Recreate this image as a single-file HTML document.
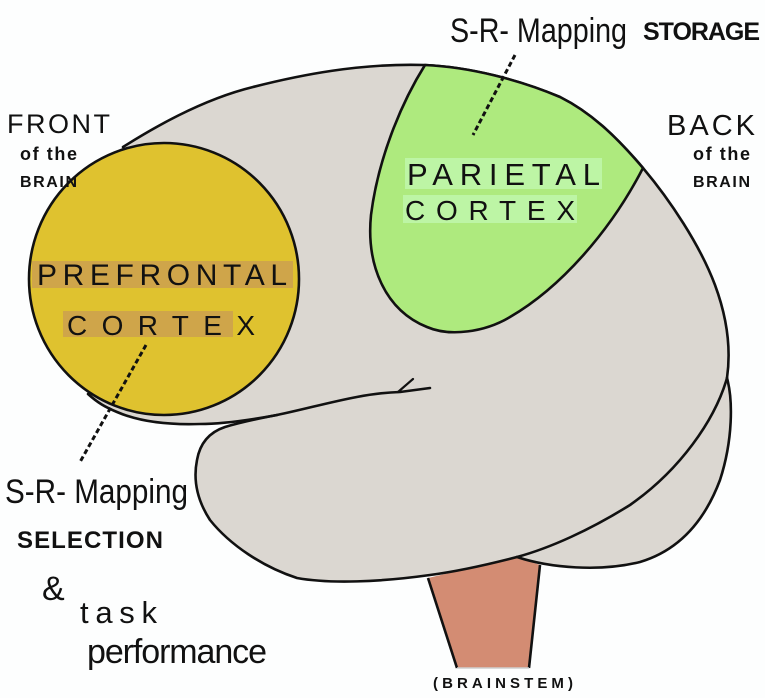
<!DOCTYPE html>
<html>
<head>
<meta charset="utf-8">
<style>
  html,body{margin:0;padding:0;background:#fdfefe;}
  svg{display:block;}
  text{font-family:"Liberation Sans",sans-serif;fill:#111;}
  .up{text-transform:uppercase;}
</style>
</head>
<body>
<svg width="765" height="698" viewBox="0 0 765 698" xmlns="http://www.w3.org/2000/svg">
  <rect width="765" height="698" fill="#fdfefe"/>

  <!-- brainstem -->
  <polygon points="428,578 517,557 540,565 529,668 457,668" fill="#d38c73"/>
  <line x1="428" y1="578" x2="457" y2="668" stroke="#111" stroke-width="2.6"/>
  <line x1="540" y1="565" x2="529" y2="668" stroke="#111" stroke-width="2.6"/>
  <line x1="457" y1="668" x2="529" y2="668" stroke="#cfcfcf" stroke-width="1.5"/>

  <!-- gray silhouette fill -->
  <path d="M123,147 C150,130 200,100 253,87 C300,75 360,63 425,65 C470,67 520,80 560,97 C590,112 615,135 643,168 C670,200 700,245 715,285 C728,320 731,350 727,378
           C733,400 733,440 720,480 C705,520 680,550 640,562 C600,572 550,568 517,557
           C490,564 460,571 430,575 C380,582 330,584 297,578 C263,567 230,545 210,520 C197,500 193,480 197,460 C200,443 210,432 225,427 C245,421 262,418 277,415
           C250,420 220,424 200,424 C170,425 140,422 117,412 C105,407 98,403 93,400
           L60,350 L40,260 L70,200 Z" fill="#dbd7d1"/>

  <!-- top outline -->
  <path d="M123,147 C150,130 200,100 253,87 C300,75 360,63 425,65 C470,67 520,80 560,97 C590,112 615,135 643,168 C670,200 700,245 715,285 C728,320 731,350 727,378"
        fill="none" stroke="#111" stroke-width="2.6" stroke-linecap="round"/>
  <!-- cerebellum outline -->
  <path d="M727,378 C733,400 733,440 720,480 C705,520 680,550 640,562 C600,572 550,568 517,557"
        fill="none" stroke="#111" stroke-width="2.6" stroke-linecap="round"/>
  <!-- crease + temporal lobe -->
  <path d="M727,378 C715,420 680,470 630,505 C590,530 550,548 517,557 C490,564 460,571 430,575 C380,582 330,584 297,578 C263,567 230,545 210,520 C197,500 193,480 197,460 C200,443 210,432 225,427 C245,421 262,418 277,415 C320,406 360,393 400,392 L430,388"
        fill="none" stroke="#111" stroke-width="2.6" stroke-linecap="round" stroke-linejoin="round"/>
  <path d="M398,392 L413,379" fill="none" stroke="#111" stroke-width="2.2" stroke-linecap="round"/>
  <!-- lower cerebrum line under prefrontal -->
  <path d="M277,415 C250,420 220,424 200,424 C170,425 140,422 117,412 C105,407 98,403 88,394"
        fill="none" stroke="#111" stroke-width="2.6" stroke-linecap="round"/>

  <!-- prefrontal cortex -->
  <ellipse cx="164" cy="279" rx="135" ry="136" fill="#dfc22f" stroke="#111" stroke-width="2.6"/>
  <rect x="32" y="261" width="261" height="27" fill="#cfa54a"/>
  <rect x="63" y="311" width="170" height="26" fill="#cfa54a"/>
  <text x="37" y="285" font-size="30" textLength="250" lengthAdjust="spacing">PREFRONTAL</text>
  <text x="67" y="335" font-size="28" textLength="188" lengthAdjust="spacing">CORTEX</text>

  <!-- parietal cortex -->
  <path d="M425,65 C400,105 378,160 371,215 C366,265 385,310 427,327 C450,337 485,332 510,317 C560,288 610,232 643,168 C615,135 590,112 560,97 C520,80 470,67 425,65 Z"
        fill="#aeea7e" stroke="#111" stroke-width="2.6" stroke-linejoin="round"/>
  <rect x="405" y="158" width="197" height="31" fill="#bdf5a5"/>
  <rect x="403" y="195" width="174" height="28" fill="#bdf5a5"/>
  <text x="407" y="185" font-size="31" textLength="193" lengthAdjust="spacing">PARIETAL</text>
  <text x="405" y="220" font-size="28" textLength="170" lengthAdjust="spacing">CORTEX</text>

  <!-- dotted connectors -->
  <line x1="515" y1="55" x2="473" y2="135" stroke="#111" stroke-width="3" stroke-dasharray="5 3"/>
  <line x1="146" y1="345" x2="80" y2="462" stroke="#111" stroke-width="3" stroke-dasharray="5 3"/>

  <!-- labels -->
  <text x="7" y="133" font-size="27" textLength="103" lengthAdjust="spacing">FRONT</text>
  <text x="20" y="160" font-size="18" font-weight="bold" textLength="57" lengthAdjust="spacing">of the</text>
  <text x="20" y="187" font-size="16" font-weight="bold" textLength="57" lengthAdjust="spacing">BRAIN</text>

  <text x="667" y="135" font-size="29" textLength="88" lengthAdjust="spacing">BACK</text>
  <text x="693" y="160" font-size="18" font-weight="bold" textLength="57" lengthAdjust="spacing">of the</text>
  <text x="693" y="187" font-size="16" font-weight="bold" textLength="57" lengthAdjust="spacing">BRAIN</text>

  <text x="450" y="42" font-size="34" textLength="177" lengthAdjust="spacingAndGlyphs">S-R- Mapping</text>
  <text class="up" x="643" y="40" font-size="25" font-weight="bold" textLength="117" lengthAdjust="spacing">storage</text>

  <text x="5" y="503" font-size="34" textLength="183" lengthAdjust="spacingAndGlyphs">S-R- Mapping</text>
  <text class="up" x="17" y="548" font-size="24" font-weight="bold" textLength="146" lengthAdjust="spacing">selection</text>
  <text x="42" y="600" font-size="34">&amp;</text>
  <text x="80" y="623" font-size="31" textLength="77" lengthAdjust="spacing">task</text>
  <text x="87" y="663" font-size="34" textLength="180" lengthAdjust="spacing">performance</text>

  <text x="433" y="688" font-size="15" font-weight="bold" textLength="140" lengthAdjust="spacing">(BRAINSTEM)</text>
</svg>
</body>
</html>
